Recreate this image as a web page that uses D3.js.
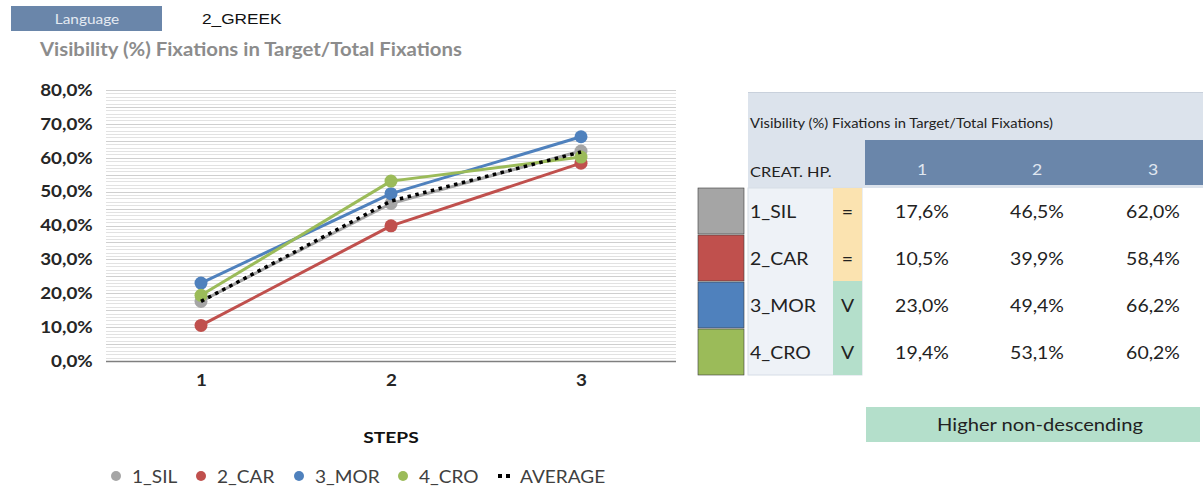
<!DOCTYPE html>
<html>
<head>
<meta charset="utf-8">
<script src="https://cdn.jsdelivr.net/npm/d3@7"></script>
<style>
  html, body { margin: 0; padding: 0; background: #fff; }
  svg { display: block; font-family: Lato, "Open Sans", sans-serif; }
</style>
</head>
<body>
<svg id="chart" width="1203" height="486"></svg>
<script>
// Steps on the x axis
const steps = ["1", "2", "3"];
// Series names and colours
const seriesNames = ["1_SIL", "2_CAR", "3_MOR", "4_CRO"];
const seriesColors = ["#a5a5a5", "#c0504d", "#4f81bd", "#9bbb59"];
// Visibility values (%) per series, one per step
const sil = [17.6, 46.5, 62.0];
const car = [10.5, 39.9, 58.4];
const mor = [23.0, 49.4, 66.2];
const cro = [19.4, 53.1, 60.2];
const average = [17.6, 47.2, 61.7];
// Trend flag per series
const flags = ["=", "=", "V", "V"];
// Y axis ticks
const yTicks = [0, 10, 20, 30, 40, 50, 60, 70, 80];

const seriesValues = [sil, car, mor, cro];
const fmt = v => v.toFixed(1).replace(".", ",") + "%";

const svg = d3.select("#chart");

// text helper: places a label and widens it horizontally by sx
function label(parent, x, y, s, o = {}) {
  return parent.append("text")
    .attr("transform", `translate(${x},${y}) scale(${o.sx || 1},1)`)
    .attr("text-anchor", o.anchor || "start")
    .attr("font-family", o.family || "Lato, sans-serif")
    .attr("font-size", o.size || 16)
    .attr("font-weight", o.weight || "normal")
    .attr("fill", o.fill || "#222")
    .text(s);
}

// ---- header ----
svg.append("rect").attr("x", 11).attr("y", 6).attr("width", 151).attr("height", 25).attr("fill", "#6a86aa");
label(svg, 87, 23.5, "Language", { anchor: "middle", size: 14, sx: 1.1, fill: "#e4eaf2" });
label(svg, 202, 23.5, "2_GREEK", { size: 15, sx: 1.15, fill: "#111", family: "Liberation Sans, Arial, sans-serif" });
label(svg, 40, 56, "Visibility (%) Fixations in Target/Total Fixations",
  { size: 18, weight: "bold", sx: 1.13, fill: "#8c8c8c" });

// ---- chart ----
const x = d3.scalePoint().domain(steps).range([106, 676]).padding(0.5);
const y = d3.scaleLinear().domain([0, 80]).range([361, 90]);

// dense horizontal gridlines
svg.append("g").selectAll("line").data(d3.range(1, 80.01, 1)).join("line")
  .attr("x1", 106).attr("x2", 676)
  .attr("y1", d => Math.round(y(d)) + 0.5).attr("y2", d => Math.round(y(d)) + 0.5)
  .attr("stroke", d => d % 5 === 0 ? "#cfcfcf" : "#e2e2e2").attr("stroke-width", 1);

// y axis labels
svg.append("g").attr("transform", "translate(95,0)")
  .call(d3.axisLeft(y).tickValues(yTicks).tickFormat(fmt).tickSize(0).tickPadding(2))
  .call(a => a.select(".domain").remove())
  .call(a => a.selectAll("text").attr("font-family", "Lato, sans-serif").attr("font-size", 16.5)
    .attr("font-weight", "bold").attr("fill", "#262626").attr("transform", "scale(1.14,1)"));

// x axis
svg.append("g").attr("transform", "translate(0,361)")
  .call(d3.axisBottom(x).tickSize(0).tickPadding(13))
  .call(a => a.select(".domain").attr("d", "M106,0.5H676").attr("stroke", "#7f7f7f").attr("stroke-width", 1.5))
  .call(a => a.selectAll("text").attr("font-family", "Lato, sans-serif").attr("font-size", 16.5)
    .attr("font-weight", "bold").attr("fill", "#262626").attr("transform", "scale(1.14,1)"));

label(svg, 391, 443, "STEPS", { anchor: "middle", size: 16, weight: "bold", sx: 1.2, fill: "#111" });

const line = d3.line().x((d, i) => x(steps[i])).y(d => y(d));

// white halo under the dotted average
svg.append("path").datum(average).attr("d", line).attr("fill", "none")
  .attr("stroke", "#fff").attr("stroke-width", 6);

// series lines and markers
seriesValues.forEach((vals, k) => {
  svg.append("path").datum(vals).attr("d", line).attr("fill", "none")
    .attr("stroke", seriesColors[k]).attr("stroke-width", 3).attr("stroke-linejoin", "round");
});
seriesValues.forEach((vals, k) => {
  svg.append("g").selectAll("circle").data(vals).join("circle")
    .attr("cx", (d, i) => x(steps[i])).attr("cy", d => y(d)).attr("r", 6.5)
    .attr("fill", seriesColors[k]);
});
// dotted average on top
svg.append("path").datum(average).attr("d", line).attr("fill", "none")
  .attr("stroke", "#000").attr("stroke-width", 3.5).attr("stroke-dasharray", "3.5,4.5");

// legend
const legendX = [116, 201, 299, 403];
seriesNames.forEach((n, i) => {
  svg.append("circle").attr("cx", legendX[i]).attr("cy", 476).attr("r", 5).attr("fill", seriesColors[i]);
  label(svg, legendX[i] + 16, 482.5, n, { size: 18, sx: 1.06, fill: "#404040" });
});
svg.append("line").attr("x1", 498).attr("x2", 512).attr("y1", 476).attr("y2", 476)
  .attr("stroke", "#000").attr("stroke-width", 4).attr("stroke-dasharray", "4,4");
label(svg, 520, 482.5, "AVERAGE", { size: 18, sx: 1.06, fill: "#404040" });

// ---- table ----
const t = svg.append("g");
t.append("rect").attr("x", 748).attr("y", 92).attr("width", 455).attr("height", 96).attr("fill", "#dce3ec");
t.append("line").attr("x1", 748).attr("x2", 1203).attr("y1", 92.5).attr("y2", 92.5).attr("stroke", "#c9d1dc");
t.append("rect").attr("x", 865).attr("y", 140).attr("width", 338).attr("height", 45).attr("fill", "#6a86aa");
label(t, 750, 128, "Visibility (%) Fixations in Target/Total Fixations)", { size: 12.5, sx: 1.18 });
label(t, 750, 177, "CREAT. HP.", { size: 14, sx: 1.17 });

const colX = [922, 1037, 1153];
steps.forEach((s, i) => {
  label(t, colX[i], 175, s, { anchor: "middle", size: 16, sx: 1.1, fill: "#e0e7f0" });
});

const rowTop = [188, 235, 282, 329];
const rowH = 46;
t.append("rect").attr("x", 748).attr("y", 188).attr("width", 114).attr("height", 187)
  .attr("fill", "#eef2f7").attr("stroke", "#d6dde6");
seriesNames.forEach((n, i) => {
  const top = rowTop[i];
  t.append("rect").attr("x", 698).attr("y", top).attr("width", 46).attr("height", rowH)
    .attr("fill", seriesColors[i]).attr("stroke", "#3a3a3a").attr("stroke-width", 0.6);
  t.append("rect").attr("x", 833).attr("y", top - (i === 0 ? 0 : 1)).attr("width", 29).attr("height", rowH + 1)
    .attr("fill", flags[i] === "=" ? "#fbe3b0" : "#b4dfcb");
  label(t, 750, top + 30, n, { size: 18, sx: 1.08 });
  label(t, 847.5, top + 30, flags[i], { anchor: "middle", size: 18, sx: 1.08 });
  seriesValues[i].forEach((v, j) => {
    label(t, colX[j], top + 30, fmt(v), { anchor: "middle", size: 18, sx: 1.08 });
  });
});

// key for the V flag
t.append("rect").attr("x", 866).attr("y", 407).attr("width", 334).attr("height", 35).attr("fill", "#b4dfcb");
label(t, 1040, 431, "Higher non-descending", { anchor: "middle", size: 18, sx: 1.12 });
</script>
</body>
</html>
